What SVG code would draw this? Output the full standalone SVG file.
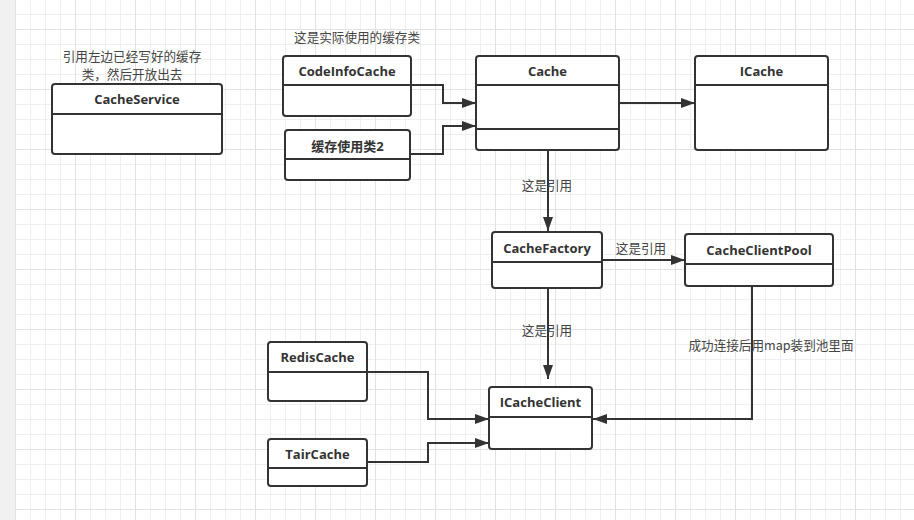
<svg xmlns="http://www.w3.org/2000/svg" width="914" height="520" viewBox="0 0 914 520">
<defs>
<pattern id="minor" patternUnits="userSpaceOnUse" x="15" y="14" width="15" height="15">
<path d="M0 0.5H15M0.5 0V15" stroke="#efefef" stroke-width="1" fill="none"/>
</pattern>
<pattern id="major" patternUnits="userSpaceOnUse" x="15" y="29" width="60" height="60">
<path d="M0 0.5H60M0.5 0V60" stroke="#e2e2e2" stroke-width="1" fill="none"/>
</pattern>
<marker id="arr" markerUnits="userSpaceOnUse" markerWidth="14" markerHeight="10" refX="14" refY="5" orient="auto">
<path d="M0 0L14 5L0 10Z" fill="#333"/>
</marker>
</defs>
<style>
.box{fill:#fff;stroke:#333;stroke-width:2}
.div{stroke:#333;stroke-width:2;fill:none}
.t{font-family:"Open Sans","Noto Sans CJK SC",sans-serif;font-weight:bold;font-size:13px;fill:#333;text-anchor:middle;dominant-baseline:central}
.lbl{font-family:"Noto Sans CJK SC","Noto Sans",sans-serif;font-size:12.6px;fill:#444;text-anchor:middle;dominant-baseline:central}
.c{fill:none;stroke:#333;stroke-width:2;marker-end:url(#arr)}
</style>
<rect width="914" height="520" fill="#fff"/>
<rect x="15" y="0" width="899" height="520" fill="url(#minor)"/>
<rect x="15" y="0" width="899" height="520" fill="url(#major)"/>
<rect x="0" y="0" width="15" height="520" fill="#f1f1f1"/>

<g id="connectors">
<path class="c" d="M411 85H443V103H476"/>
<path class="c" d="M410 154H443V126H476"/>
<path class="c" d="M619 103H695"/>
<path class="c" d="M548 150V231"/>
<path class="c" d="M602 260H685"/>
<path class="c" d="M548 288V379"/>
<path class="c" d="M752 286V419H593"/>
<path class="c" d="M367 372H428V419H489"/>
<path class="c" d="M367 462H428V443H489"/>
</g>

<g id="labels">
<text class="lbl" x="357" y="36">这是实际使用的缓存类</text>
<text class="lbl" x="132" y="55.3">引用左边已经写好的缓存</text>
<text class="lbl" x="132" y="73">类，然后开放出去</text>
<text class="lbl" x="547" y="184">这是引用</text>
<text class="lbl" x="641" y="247">这是引用</text>
<text class="lbl" x="547" y="329">这是引用</text>
<text class="lbl" x="771" y="344">成功连接后用map装到池里面</text>
</g>

<g id="CacheService">
<rect class="box" x="52" y="84" width="170" height="70" rx="3"/>
<path class="div" d="M52 114H222"/>
<text class="t" x="137" y="99">CacheService</text>
</g>
<g id="CodeInfoCache">
<rect class="box" x="283" y="56" width="128" height="60" rx="3"/>
<path class="div" d="M283 85H411"/>
<text class="t" x="347" y="71">CodeInfoCache</text>
</g>
<g id="CacheUse2">
<rect class="box" x="285" y="130" width="125" height="50" rx="3"/>
<path class="div" d="M285 159H410"/>
<text class="t" x="347.5" y="145.5">缓存使用类2</text>
</g>
<g id="Cache">
<rect class="box" x="476" y="56" width="143" height="94" rx="3"/>
<path class="div" d="M476 85H619M476 129H619"/>
<text class="t" x="547.5" y="71">Cache</text>
</g>
<g id="ICache">
<rect class="box" x="695" y="56" width="133" height="94" rx="3"/>
<path class="div" d="M695 85H828"/>
<text class="t" x="761.5" y="71">ICache</text>
</g>
<g id="CacheFactory">
<rect class="box" x="492" y="232" width="110" height="56" rx="3"/>
<path class="div" d="M492 262H602"/>
<text class="t" x="547" y="247.5">CacheFactory</text>
</g>
<g id="CacheClientPool">
<rect class="box" x="685" y="234" width="148" height="52" rx="3"/>
<path class="div" d="M685 264H833"/>
<text class="t" x="759" y="249.5">CacheClientPool</text>
</g>
<g id="RedisCache">
<rect class="box" x="268" y="342" width="99" height="59" rx="3"/>
<path class="div" d="M268 372H367"/>
<text class="t" x="317.5" y="357">RedisCache</text>
</g>
<g id="TairCache">
<rect class="box" x="268" y="439" width="99" height="47" rx="3"/>
<path class="div" d="M268 468H367"/>
<text class="t" x="317.5" y="454">TairCache</text>
</g>
<g id="ICacheClient">
<rect class="box" x="489" y="387" width="103" height="62" rx="3"/>
<path class="div" d="M489 417H592"/>
<text class="t" x="540.5" y="402">ICacheClient</text>
</g>
</svg>
